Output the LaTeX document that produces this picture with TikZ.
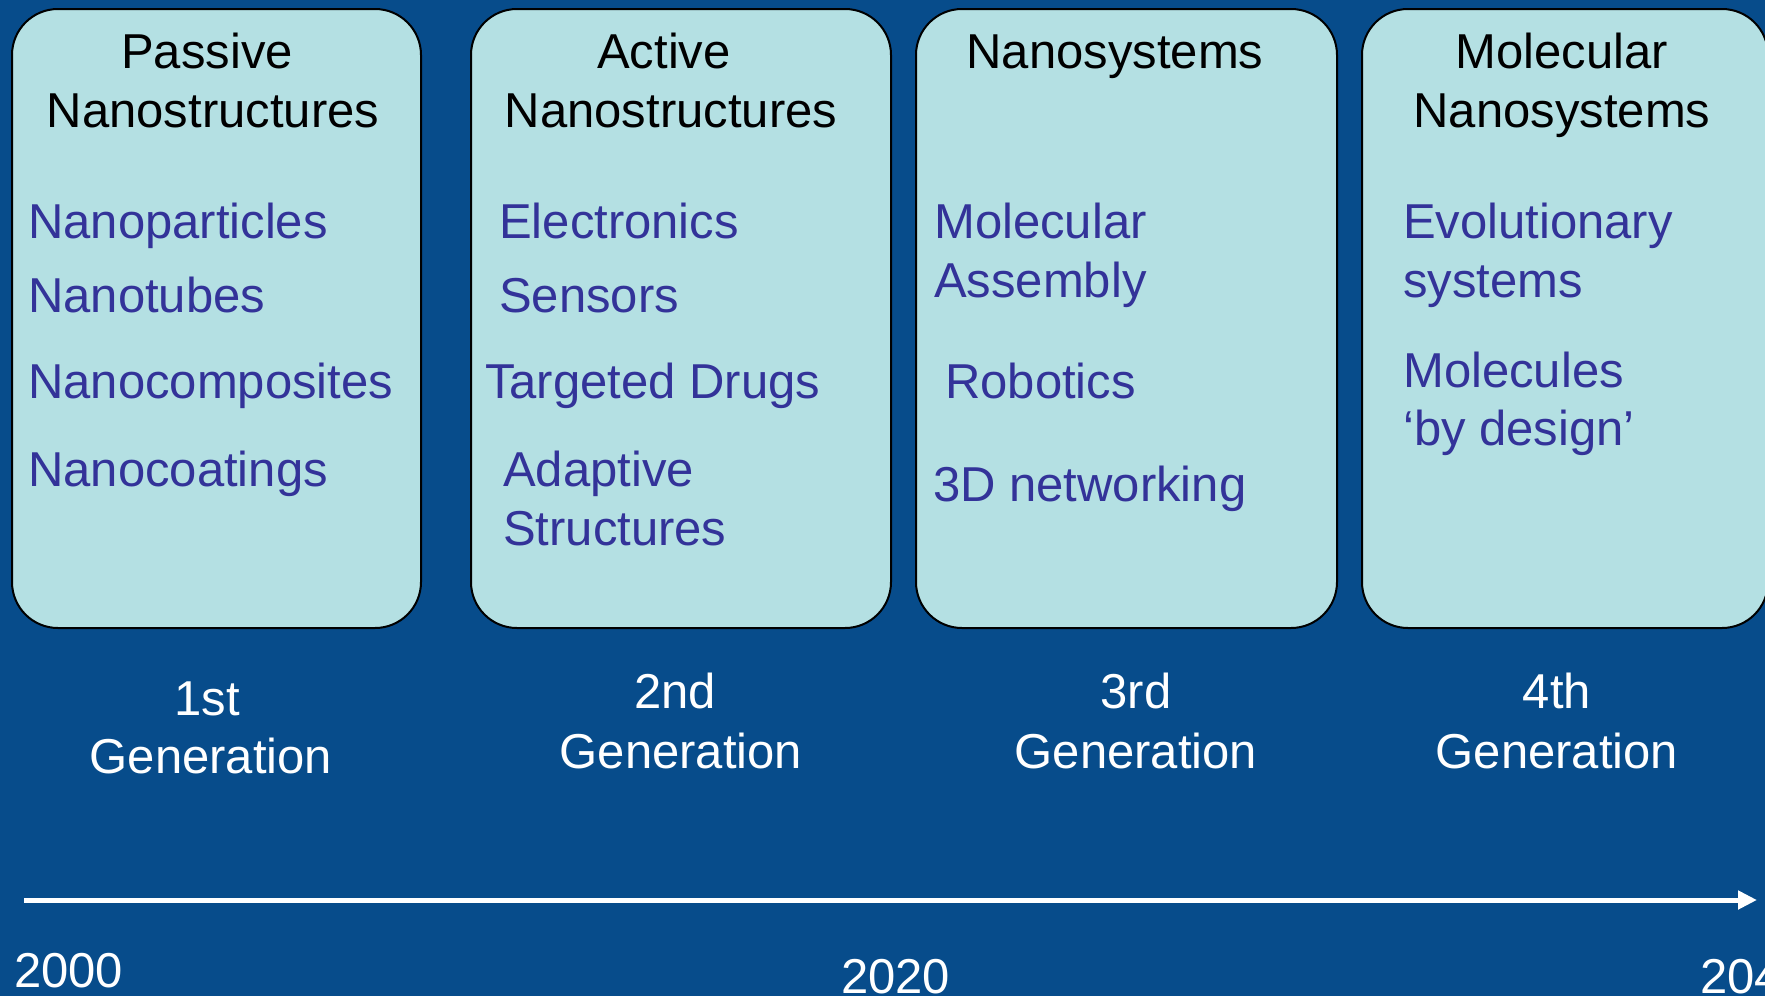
\documentclass[tikz,border=0pt]{standalone}
\usepackage{fontspec}
\setmainfont{Liberation Sans}
\usetikzlibrary{arrows.meta}
\definecolor{bgblue}{RGB}{7,76,139}
\definecolor{boxfill}{RGB}{180,224,227}
\definecolor{itemblue}{RGB}{51,51,153}
\tikzset{
  gbox/.style={draw=black, line width=2pt, fill=boxfill, rounded corners=46pt, inner sep=0pt},
  txt/.style={inner sep=0pt, font=\fontsize{49}{59}\selectfont},
  title/.style={txt, text=black, anchor=base},
  item/.style={txt, text=itemblue, anchor=base west},
  gen/.style={txt, text=white, anchor=base},
  year/.style={txt, text=white, anchor=base west},
  timeline/.style={draw=white, line width=5pt, -{Triangle[length=19pt,width=18pt]}}
}
\begin{document}
\begin{tikzpicture}[x=1pt,y=-1pt]
\useasboundingbox (0,0) rectangle (1765,996);
\clip (0,0) rectangle (1765,996);
\fill[bgblue] (0,0) rectangle (1765,996);
% boxes
\node[gbox, minimum width=409pt, minimum height=619pt] (b1) at (216.5,318.5) {};
\node[gbox, minimum width=420pt, minimum height=619pt] (b2) at (681,318.5) {};
\node[gbox, minimum width=421pt, minimum height=619pt] (b3) at (1126.5,318.5) {};
\node[gbox, minimum width=406pt, minimum height=619pt] (b4) at (1565,318.5) {};
% titles
\node[title] (t1a) at (207,68) {Passive};
\node[title] (t1b) at (213,127) {Nanostructures};
\node[title] (t2a) at (664,68) {Active};
\node[title] (t2b) at (671,127) {Nanostructures};
\node[title] (t3a) at (1115,68) {Nanosystems};
\node[title] (t4a) at (1562,68) {Molecular};
\node[title] (t4b) at (1562,127) {Nanosystems};
% items box 1
\node[item] (i11) at (28,238) {Nanoparticles};
\node[item] (i12) at (28,312) {Nanotubes};
\node[item] (i13) at (28,398) {Nanocomposites};
\node[item] (i14) at (28,486) {Nanocoatings};
% items box 2
\node[item] (i21) at (499,238) {Electronics};
\node[item] (i22) at (499,312) {Sensors};
\node[item] (i23) at (485,398) {Targeted Drugs};
\node[item] (i24) at (503,486) {Adaptive};
\node[item] (i25) at (503,545) {Structures};
% items box 3
\node[item] (i31) at (934,238) {Molecular};
\node[item] (i32) at (934,297) {Assembly};
\node[item] (i33) at (945,398) {Robotics};
\node[item] (i34) at (933,501) {3D networking};
% items box 4
\node[item] (i41) at (1403,238) {Evolutionary};
\node[item] (i42) at (1403,297) {systems};
\node[item] (i43) at (1403,387) {Molecules};
\node[item] (i44) at (1403,445) {‘by design’};
% generations
\node[gen] (g1a) at (207,715) {1st};
\node[gen] (g1b) at (211,773) {Generation};
\node[gen] (g2a) at (675,708) {2nd};
\node[gen] (g2b) at (681,768) {Generation};
\node[gen] (g3a) at (1136,708) {3rd};
\node[gen] (g3b) at (1136,768) {Generation};
\node[gen] (g4a) at (1557,708) {4th};
\node[gen] (g4b) at (1557,768) {Generation};
% timeline
\coordinate (ta) at (24,900);
\coordinate (tb) at (1757,900);
\draw[timeline] (ta) -- (tb);
\node[year] (y1) at (14,987) {2000};
\node[year] (y2) at (841,993) {2020};
\node[year] (y3) at (1700,993) {2040};
\end{tikzpicture}
\end{document}
